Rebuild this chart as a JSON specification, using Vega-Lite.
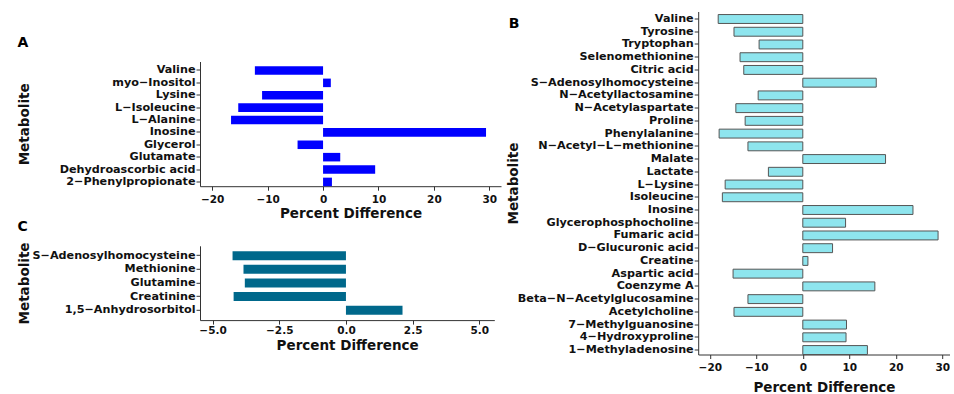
{
  "$schema": "https://vega.github.io/schema/vega-lite/v6.json",
  "padding": {"left": 17, "top": 11.5, "right": 0, "bottom": 0},
  "background": "white",
  "datasets": {
    "A": [
      {"metabolite": "Valine", "pct": -12.3},
      {"metabolite": "myo−Inositol", "pct": 1.4},
      {"metabolite": "Lysine", "pct": -11.0},
      {"metabolite": "L−Isoleucine", "pct": -15.3},
      {"metabolite": "L−Alanine", "pct": -16.6},
      {"metabolite": "Inosine", "pct": 29.4},
      {"metabolite": "Glycerol", "pct": -4.6},
      {"metabolite": "Glutamate", "pct": 3.1},
      {"metabolite": "Dehydroascorbic acid", "pct": 9.4},
      {"metabolite": "2−Phenylpropionate", "pct": 1.6}
    ],
    "B": [
      {"metabolite": "Valine", "pct": -18.2},
      {"metabolite": "Tyrosine", "pct": -14.8},
      {"metabolite": "Tryptophan", "pct": -9.4},
      {"metabolite": "Selenomethionine", "pct": -13.5},
      {"metabolite": "Citric acid", "pct": -12.7},
      {"metabolite": "S−Adenosylhomocysteine", "pct": 15.8},
      {"metabolite": "N−Acetyllactosamine", "pct": -9.6},
      {"metabolite": "N−Acetylaspartate", "pct": -14.4},
      {"metabolite": "Proline", "pct": -12.4},
      {"metabolite": "Phenylalanine", "pct": -18.0},
      {"metabolite": "N−Acetyl−L−methionine", "pct": -11.8},
      {"metabolite": "Malate", "pct": 17.8},
      {"metabolite": "Lactate", "pct": -7.4},
      {"metabolite": "L−Lysine", "pct": -16.7},
      {"metabolite": "Isoleucine", "pct": -17.3},
      {"metabolite": "Inosine", "pct": 23.7},
      {"metabolite": "Glycerophosphocholine", "pct": 9.2},
      {"metabolite": "Fumaric acid", "pct": 29.1},
      {"metabolite": "D−Glucuronic acid", "pct": 6.4},
      {"metabolite": "Creatine", "pct": 1.1},
      {"metabolite": "Aspartic acid", "pct": -15.0},
      {"metabolite": "Coenzyme A", "pct": 15.5},
      {"metabolite": "Beta−N−Acetylglucosamine", "pct": -11.8},
      {"metabolite": "Acetylcholine", "pct": -14.8},
      {"metabolite": "7−Methylguanosine", "pct": 9.4},
      {"metabolite": "4−Hydroxyproline", "pct": 9.3},
      {"metabolite": "1−Methyladenosine", "pct": 13.9}
    ],
    "C": [
      {"metabolite": "S−Adenosylhomocysteine", "pct": -4.25},
      {"metabolite": "Methionine", "pct": -3.84},
      {"metabolite": "Glutamine", "pct": -3.79},
      {"metabolite": "Creatinine", "pct": -4.21},
      {"metabolite": "1,5−Anhydrosorbitol", "pct": 2.12}
    ]
  },
  "config": {
    "view": {"stroke": null},
    "font": "DejaVu Sans",
    "axis": {
      "grid": false,
      "domainColor": "#333333",
      "domainWidth": 1,
      "tickColor": "#333333",
      "tickWidth": 1,
      "tickSize": 4,
      "labelColor": "#111111",
      "titleColor": "#111111",
      "labelFont": "DejaVu Sans",
      "titleFont": "DejaVu Sans",
      "labelFontWeight": "bold",
      "titleFontWeight": "bold",
      "titleFontSize": 13.5,
      "labelOverlap": false
    },
    "axisX": {"labelFontSize": 10.5, "labelPadding": 4, "titlePadding": 2, "labelFlush": false},
    "axisY": {"labelFontSize": 11.2, "labelPadding": 1},
    "title": {
      "font": "DejaVu Sans",
      "fontSize": 14,
      "fontWeight": "bold",
      "anchor": "start",
      "frame": "bounds",
      "color": "#000000"
    }
  },
  "columns": 2,
  "align": "none",
  "spacing": 5.2,
  "concat": [
    {
      "spacing": -1.7,
      "vconcat": [
        {
          "data": {"name": "A"},
          "width": 301,
          "height": 174.7,
          "title": {"text": "A", "offset": -38.7},
          "mark": {"type": "bar", "color": "#0000FF"},
          "encoding": {
            "y": {
              "field": "metabolite", "type": "nominal", "sort": null,
              "scale": {"range": [50, 174.7], "paddingInner": 0.31, "paddingOuter": 0.19, "align": 1},
              "axis": {"title": "Metabolite", "titlePadding": 27.8}
            },
            "x": {
              "field": "pct", "type": "quantitative",
              "scale": {"domain": [-22.2, 32.1], "nice": false},
              "axis": {"title": "Percent Difference", "values": [-20, -10, 0, 10, 20, 30]}
            }
          }
        },
        {
          "data": {"name": "C"},
          "width": 294.3,
          "height": 74.3,
          "title": {"text": "C", "offset": 8.2},
          "mark": {"type": "bar", "color": "#00688B"},
          "encoding": {
            "y": {
              "field": "metabolite", "type": "nominal", "sort": null,
              "scale": {"paddingInner": 0.34, "paddingOuter": 0.4, "align": 0.5},
              "axis": {"title": "Metabolite", "titlePadding": 0.5}
            },
            "x": {
              "field": "pct", "type": "quantitative",
              "scale": {"domain": [-5.47, 5.56], "nice": false},
              "axis": {"title": "Percent Difference", "values": [-5, -2.5, 0, 2.5, 5], "format": ".1f", "labelPadding": 1.5}
            }
          }
        }
      ]
    },
    {
      "data": {"name": "B"},
      "width": 251.5,
      "height": 343,
      "title": {"text": "B", "offset": -19.8, "dx": 2},
      "mark": {"type": "bar", "color": "#8EE5EE", "stroke": "#555555", "strokeWidth": 1},
      "encoding": {
        "y": {
          "field": "metabolite", "type": "nominal", "sort": null,
          "scale": {"paddingInner": 0.3, "paddingOuter": 0.12, "align": 1},
          "axis": {"title": "Metabolite", "titlePadding": -3.3}
        },
        "x": {
          "field": "pct", "type": "quantitative",
          "scale": {"domain": [-22.5, 31.6], "nice": false},
          "axis": {"title": "Percent Difference", "values": [-20, -10, 0, 10, 20, 30], "titlePadding": 7}
        }
      }
    }
  ]
}
